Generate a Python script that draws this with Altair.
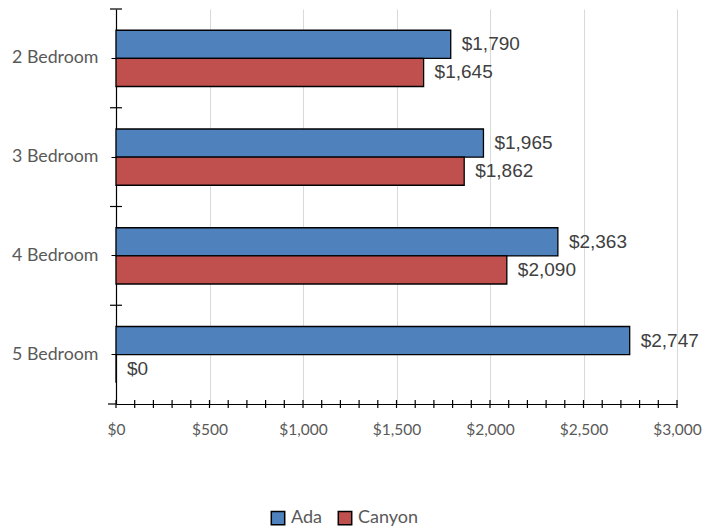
import altair as alt
import pandas as pd

categories = ["2 Bedroom", "3 Bedroom", "4 Bedroom", "5 Bedroom"]
series = ["Ada", "Canyon"]
ada_values = [1790, 1965, 2363, 2747]
canyon_values = [1645, 1862, 2090, 0]
x_major_ticks = [0, 500, 1000, 1500, 2000, 2500, 3000]
x_minor_ticks = list(range(0, 3001, 100))
colors = ["#4F81BD", "#C0504D"]

rows = []
for c, a, k in zip(categories, ada_values, canyon_values):
    rows.append({"cat": c, "series": "Ada", "value": a})
    rows.append({"cat": c, "series": "Canyon", "value": k})
df = pd.DataFrame(rows)

W, H = 561, 395
P_IN, P_OUT = 0.43, 0.215
step = H / (len(categories) - P_IN + 2 * P_OUT)
half_gap = P_OUT * step

yscale = alt.Scale(domain=categories, paddingInner=P_IN, paddingOuter=P_OUT)
xscale = alt.Scale(domain=[0, 3000], nice=False)

base = alt.Chart(df)

bars = base.mark_bar(stroke="black", strokeWidth=1.3).encode(
    x=alt.X("value:Q", scale=xscale,
            axis=alt.Axis(values=x_major_ticks, format="$,.0f", title=None,
                          grid=True, gridColor="#d9d9d9", gridWidth=1,
                          ticks=False, domainColor="black", domainWidth=1.2,
                          labelFlush=False, labelOverlap=False,
                          labelFont="Lato", labelFontSize=15.5, labelColor="#595959",
                          labelPadding=18)),
    y=alt.Y("cat:N", scale=yscale, sort=categories,
            axis=alt.Axis(title=None, domainColor="black", domainWidth=1.2,
                          tickColor="black", tickSize=5, labelPadding=13,
                          labelFont="Lato", labelFontSize=17.8, labelColor="#595959")),
    yOffset=alt.YOffset("series:N", sort=series),
    color=alt.Color("series:N", scale=alt.Scale(domain=series, range=colors),
                    legend=alt.Legend(title=None, orient="none", direction="horizontal",
                                      legendX=153, legendY=500,
                                      symbolType="square", symbolSize=180,
                                      symbolStrokeColor="black", symbolStrokeWidth=1.5,
                                      labelFont="Lato", labelFontSize=18,
                                      labelColor="#595959", labelOffset=4,
                                      columnPadding=12)),
)

labels = base.mark_text(align="left", baseline="middle", dx=11,
                        font="Liberation Sans", fontSize=19, color="#404040").encode(
    x=alt.X("value:Q", scale=xscale),
    y=alt.Y("cat:N", scale=yscale, sort=categories),
    yOffset=alt.YOffset("series:N", sort=series),
    text=alt.Text("value:Q", format="$,.0f"),
)

bounds_top = alt.Chart(pd.DataFrame({"cat": categories})).mark_rule(
    color="black", strokeWidth=1.2, yOffset=-half_gap).encode(
    y=alt.Y("cat:N", scale=yscale, sort=categories, bandPosition=0),
    x=alt.value(-6), x2=alt.value(6),
)
bounds_bottom = alt.Chart(pd.DataFrame({"cat": categories[-1:]})).mark_rule(
    color="black", strokeWidth=1.2, yOffset=half_gap).encode(
    y=alt.Y("cat:N", scale=yscale, sort=categories, bandPosition=1),
    x=alt.value(-8), x2=alt.value(0),
)

xticks = alt.Chart(pd.DataFrame({"v": x_minor_ticks})).mark_rule(
    color="black", strokeWidth=1.2).encode(
    x=alt.X("v:Q", scale=xscale),
    y=alt.value(H - 4), y2=alt.value(H + 4),
)

chart = alt.layer(bars, labels, bounds_top, bounds_bottom, xticks).properties(
    width=W, height=H,
    autosize=alt.AutoSizeParams(type="none"),
    padding={"left": 116, "top": 9, "right": 711 - 116 - W, "bottom": 527 - 9 - H},
    background="white",
).configure_view(stroke=None).configure_legend(padding=0)

chart.save("out.html", embed_options={"renderer": "svg", "actions": False})
